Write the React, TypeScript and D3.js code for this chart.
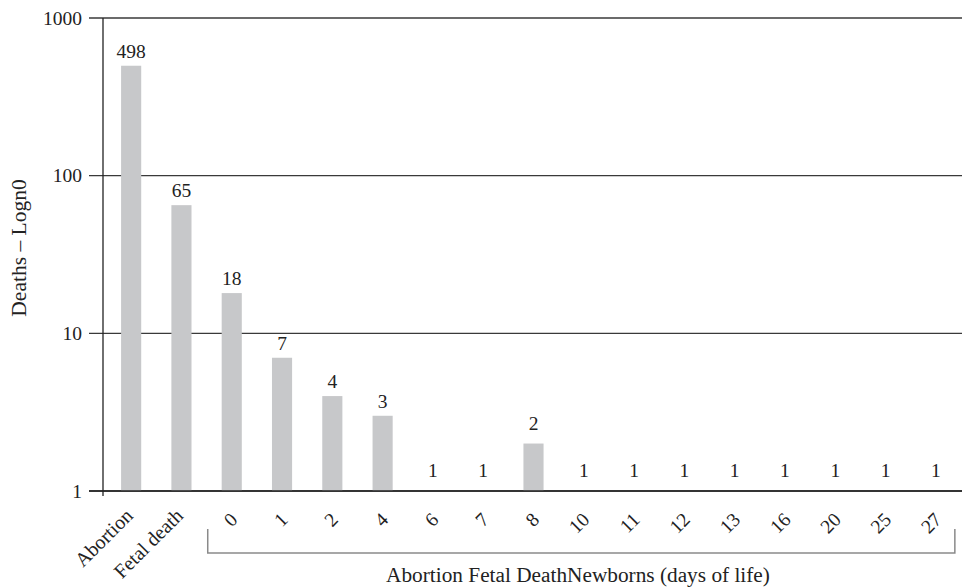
import React from "react";
import * as d3 from "d3";

const categories: string[] = ["Abortion", "Fetal death", "0", "1", "2", "4", "6", "7", "8", "10", "11", "12", "13", "16", "20", "25", "27"];
const deaths: number[] = [498, 65, 18, 7, 4, 3, 1, 1, 2, 1, 1, 1, 1, 1, 1, 1, 1];
const yTicks: number[] = [1, 10, 100, 1000];
const yTitle = "Deaths \u2013 Logn0";
const xTitle = "Abortion Fetal DeathNewborns (days of life)";

const W = 962;
const H = 587;
const FONT = "'Liberation Serif', 'Times New Roman', serif";

export default function App() {
  const x = d3.scaleBand<string>().domain(categories).range([106, 961]).paddingInner(0.6).paddingOuter(0.3);
  const y = d3.scaleLog().domain([1, 1000]).range([491, 18]);
  const axisLeft = 103;
  const gridStart = 89;
  const bw = x.bandwidth();
  const firstNewborn = x(categories[2])! + bw / 2;
  const lastNewborn = x(categories[categories.length - 1])! + bw / 2;

  return (
    <svg width={W} height={H} style={{ position: "absolute", left: 0, top: 0, background: "#fff" }} fontFamily={FONT}>
      {/* gridlines and y ticks */}
      {yTicks.map((t) => (
        <g key={t}>
          <line x1={gridStart} x2={W} y1={y(t)} y2={y(t)} stroke="#3a3a3a" strokeWidth={1.3} />
          <text x={82} y={y(t)} dy="0.35em" textAnchor="end" fontSize={19.5} fill="#222">
            {t}
          </text>
        </g>
      ))}
      {/* bars */}
      {categories.map((c, i) => {
        const v = deaths[i];
        const top = y(v);
        return (
          <g key={c}>
            <rect x={x(c)!} y={top} width={bw} height={y(1) - top} fill="#c7c8ca" />
            <text
              x={x(c)! + bw / 2}
              y={top - (v <= 2 ? 14 : 8)}
              textAnchor="middle"
              fontSize={19.5}
              fill="#222"
            >
              {v}
            </text>
          </g>
        );
      })}
      {/* axes */}
      <line x1={axisLeft} x2={axisLeft} y1={y(1000)} y2={y(1) + 5} stroke="#222" strokeWidth={1.3} />
      <line x1={gridStart} x2={W} y1={y(1)} y2={y(1)} stroke="#222" strokeWidth={1.3} />
      {/* x tick labels */}
      {categories.map((c) => {
        const cx = x(c)! + bw / 2;
        const isNum = !isNaN(Number(c));
        const px = isNum ? cx + 2 : cx - 2;
        const py = isNum ? 516 : 512;
        return (
          <text
            key={c}
            transform={`translate(${px},${py}) rotate(-45)`}
            textAnchor="end"
            dy="0.35em"
            fontSize={isNum ? 19.5 : 20}
            fill="#222"
          >
            {c}
          </text>
        );
      })}
      {/* bracket for newborns */}
      <path
        d={`M${firstNewborn - 24},529 V553 H${lastNewborn + 19} V529`}
        fill="none"
        stroke="#8a8a8a"
        strokeWidth={1.5}
      />
      <text x={578} y={582} textAnchor="middle" fontSize={21.3} fill="#222">
        {xTitle}
      </text>
      <text transform={`translate(26,248) rotate(-90)`} textAnchor="middle" fontSize={21.5} fill="#222">
        {yTitle}
      </text>
    </svg>
  );
}
